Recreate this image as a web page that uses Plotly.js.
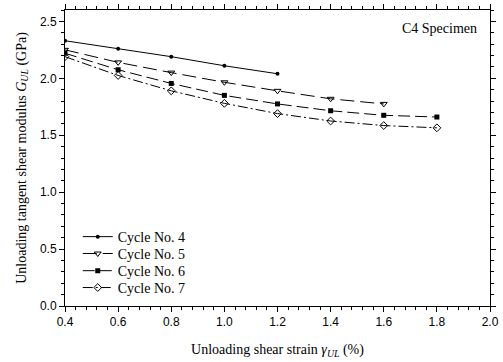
<!DOCTYPE html>
<html><head><meta charset="utf-8">
<script src="https://cdn.plot.ly/plotly-3.0.1.min.js"></script>
<style>body{margin:0;background:#fff}#c{width:503px;height:362px}</style>
</head><body><div id="c"></div>
<script>
var strainA = [0.4, 0.6, 0.8, 1.0, 1.2];
var strainB = [0.4, 0.6, 0.8, 1.0, 1.2, 1.4, 1.6];
var strainC = [0.4, 0.6, 0.8, 1.0, 1.2, 1.4, 1.6, 1.8];
var cycle4 = [2.33, 2.26, 2.19, 2.11, 2.04];
var cycle5 = [2.25, 2.14, 2.05, 1.965, 1.89, 1.82, 1.775];
var cycle6 = [2.22, 2.075, 1.955, 1.85, 1.775, 1.715, 1.675, 1.66];
var cycle7 = [2.19, 2.025, 1.89, 1.78, 1.69, 1.625, 1.585, 1.565];
var names = ["Cycle No. 4", "Cycle No. 5", "Cycle No. 6", "Cycle No. 7"];

var tf = {family: "Liberation Serif, Times New Roman, serif", size: 14, color: "#000"};
var traces = [
  {x: strainA, y: cycle4, name: names[0], mode: "lines+markers", legend: "legend",
   line: {color: "#000", width: 1, dash: "solid"},
   marker: {symbol: "circle", size: 4, color: "#000"}},
  {x: strainB, y: cycle5, name: names[1], mode: "lines+markers", legend: "legend2",
   line: {color: "#000", width: 1, dash: "14px,6px"},
   marker: {symbol: "triangle-down-open", size: 6, color: "#000", line: {width: 1}}},
  {x: strainC, y: cycle6, name: names[2], mode: "lines+markers", legend: "legend3",
   line: {color: "#000", width: 1, dash: "12px,5px"},
   marker: {symbol: "square", size: 5, color: "#000"}},
  {x: strainC, y: cycle7, name: names[3], mode: "lines+markers", legend: "legend4",
   line: {color: "#000", width: 1, dash: "10px,3px,2px,3px"},
   marker: {symbol: "diamond-open", size: 6, color: "#000", line: {width: 1}}}
];
function leg(y) {
  return {x: 0.03, y: y, xanchor: "left", yanchor: "middle", font: tf,
    bgcolor: "rgba(0,0,0,0)", itemwidth: 30};
}
var ax = {showgrid: false, zeroline: false, showline: true, linecolor: "#000", linewidth: 1,
  mirror: "ticks", ticks: "outside", ticklen: 5, tickwidth: 1, tickcolor: "#000",
  tickfont: {family: "Liberation Sans, Arial, sans-serif", size: 12, color: "#000"}};
var layout = {
  width: 503, height: 362,
  margin: {l: 65, r: 13, t: 10, b: 56},
  paper_bgcolor: "#fff", plot_bgcolor: "#fff",
  showlegend: true,
  legend: leg(0.233), legend2: leg(0.176), legend3: leg(0.118), legend4: leg(0.061),
  xaxis: Object.assign({}, ax, {range: [0.4, 2.0], tick0: 0.4, dtick: 0.2, tickformat: ".1f",
    minor: {dtick: 0.04, ticks: "outside", ticklen: 3, tickcolor: "#000"},
    title: {text: "Unloading shear strain <i>γ</i><sub><i>UL</i></sub> (%)", font: tf, standoff: 15}}),
  yaxis: Object.assign({}, ax, {range: [0, 2.6], tick0: 0, dtick: 0.5, tickformat: ".1f",
    minor: {dtick: 0.1, ticks: "outside", ticklen: 3, tickcolor: "#000"},
    title: {text: "Unloading tangent shear modulus <i>G</i><sub><i>UL</i></sub> (GPa)", font: tf, standoff: 10}}),
  annotations: [{text: "C4 Specimen", xref: "paper", yref: "paper", x: 0.975, y: 0.97,
    xanchor: "right", yanchor: "top", showarrow: false, font: tf}]
};
Plotly.newPlot("c", traces, layout, {staticPlot: true});
</script></body></html>
